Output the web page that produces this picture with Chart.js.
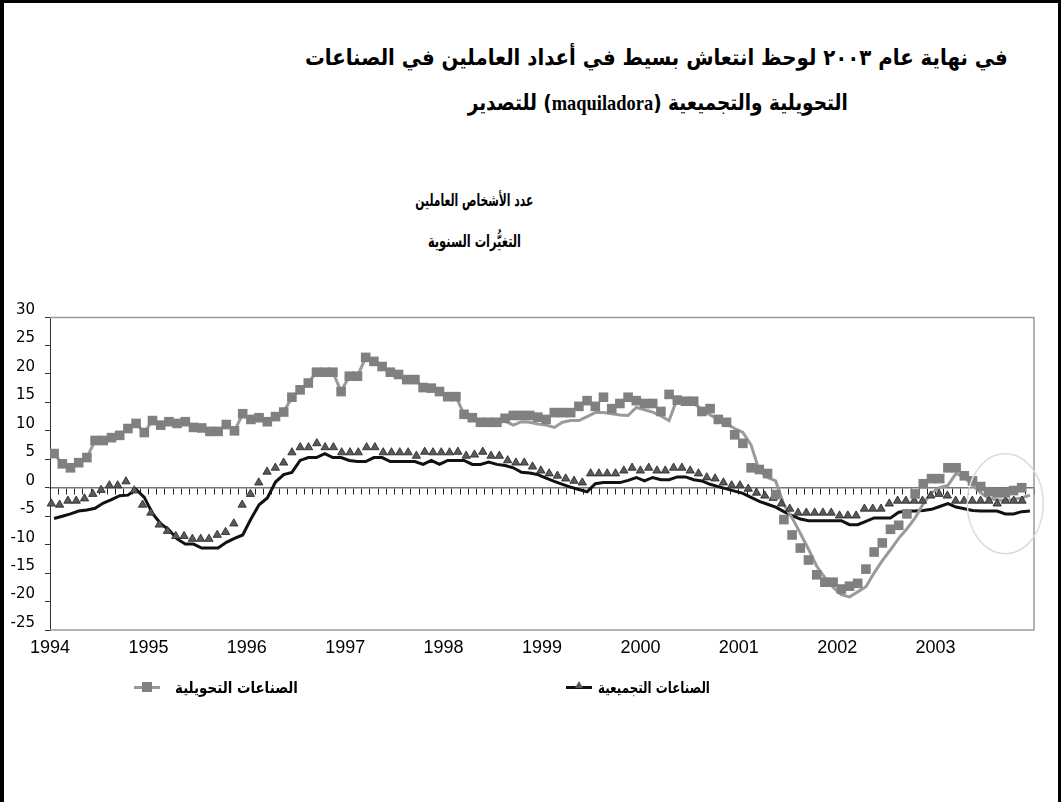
<!DOCTYPE html>
<html lang="ar">
<head>
<meta charset="utf-8">
<title>maquiladora</title>
<script src="https://cdn.jsdelivr.net/npm/chart.js@4.4.1/dist/chart.umd.min.js"></script>
<style>
  html, body { margin: 0; padding: 0; background: #fff; }
  body { width: 1061px; height: 802px; position: relative; overflow: hidden; font-family: "DejaVu Sans", sans-serif; color: #000; }
  .frame { position: absolute; left: 0; top: 0; width: 1054px; height: 900px; border: 3px solid #000; border-left-width: 4px; }
  .t { position: absolute; white-space: nowrap; text-align: center; font-weight: bold; }
  .t span { display: inline-block; transform-origin: 50% 50%; }
  .latin { font-family: "Liberation Serif", serif; }
  #c { position: absolute; left: 0; top: 290px; }
  .leg { position: absolute; top: 676px; height: 24px; }
  .sym { position: absolute; top: 10px; width: 26px; height: 3px; }
  .sym i { position: absolute; display: block; }
  .lt { position: absolute; top: 0; white-space: nowrap; font-weight: bold; font-size: 16px; line-height: 24px; }
  .lt span { display: inline-block; transform-origin: 0 50%; }
</style>
</head>
<body>
<div class="frame"></div>

<div class="t" style="left:256px; width:800px; top:42px; font-size:22px; line-height:32px" data-w="703" dir="rtl"><span>في نهاية عام ٢٠٠٣ لوحظ انتعاش بسيط في أعداد العاملين في الصناعات</span></div>
<div class="t" style="left:358px; width:600px; top:87px; font-size:22px; line-height:32px" data-w="380" dir="rtl"><span>التحويلية والتجميعية (<b class="latin">maquiladora</b>) للتصدير</span></div>
<div class="t" style="left:324px; width:300px; top:187px; font-size:17px; line-height:26px" data-w="118" dir="rtl"><span>عدد الأشخاص العاملين</span></div>
<div class="t" style="left:324px; width:300px; top:228px; font-size:17px; line-height:26px" data-w="93" dir="rtl"><span>التغيُّرات السنوية</span></div>

<canvas id="c" width="1061" height="390"></canvas>

<div class="leg" style="left:134px">
  <div class="sym" style="background:#999"><i style="left:8px; top:-4px; width:10px; height:10px; background:#808080"></i></div>
  <div class="lt" style="left:41px" data-w="123" dir="rtl"><span>الصناعات التحويلية</span></div>
</div>
<div class="leg" style="left:566px">
  <div class="sym" style="background:#111"><i style="left:9px; top:-5px; width:0; height:0; border-left:4px solid transparent; border-right:4px solid transparent; border-bottom:7px solid #555"></i></div>
  <div class="lt" style="left:32px" data-w="112" dir="rtl"><span>الصناعات التجميعية</span></div>
</div>

<script>
// Employment in maquiladora industries, annual % change, monthly 1994-2003.

const yearLabels = ["1994", "1995", "1996", "1997", "1998", "1999", "2000", "2001", "2002", "2003"];
const yTicks = [30, 25, 20, 15, 10, 5, 0, -5, -10, -15, -20, -25];

// manufacturing (squares), one value per month from Jan 1994
const manufacturing = [
  6.0, 4.2, 3.5, 4.4, 5.3, 8.3, 8.3, 8.8, 9.2, 10.4,
  11.3, 9.7, 11.8, 11.0, 11.6, 11.3, 11.6, 10.6, 10.5, 9.9,
  9.9, 11.1, 10.0, 13.0, 12.0, 12.3, 11.6, 12.5, 13.3, 15.9,
  17.2, 18.4, 20.3, 20.3, 20.3, 16.9, 19.6, 19.6, 22.9, 22.2,
  21.3, 20.3, 19.9, 19.0, 19.0, 17.6, 17.5, 16.9, 16.0, 16.0,
  12.9, 12.3, 11.5, 11.5, 11.5, 12.2, 12.7, 12.7, 12.7, 12.4,
  12.0, 13.2, 13.2, 13.2, 14.3, 15.3, 14.3, 15.9, 13.9, 14.8,
  15.9, 15.3, 14.8, 14.8, 13.4, 16.4, 15.4, 15.2, 15.2, 13.4,
  13.9, 12.0, 11.5, 9.3, 7.8, 3.5, 3.2, 2.5, -1.2, -5.6,
  -8.3, -10.6, -12.7, -15.3, -16.6, -16.6, -17.8, -17.3, -16.8, -14.3,
  -11.3, -9.7, -7.3, -6.6, -4.6, -1.1, 0.7, 1.6, 1.6, 3.5,
  3.5, 2.1, 1.2, 0.2, -0.7, -0.9, -0.9, -0.5, 0.0, null
];

// manufacturing, smoothed line
const manufacturingTrend = [
  6.0, 4.2, 3.5, 4.4, 5.3, 8.3, 8.3, 8.8, 9.2, 10.4,
  11.3, 9.7, 11.8, 11.0, 11.6, 11.3, 11.6, 10.6, 10.5, 9.9,
  9.9, 11.1, 10.0, 13.0, 12.0, 12.3, 11.6, 12.5, 13.3, 15.9,
  17.2, 18.4, 20.3, 20.3, 20.3, 16.9, 19.6, 19.6, 22.9, 22.2,
  21.3, 20.3, 19.9, 19.0, 19.0, 17.6, 17.5, 16.9, 16.0, 16.0,
  12.9, 12.3, 11.5, 11.5, 11.5, 11.7, 11.0, 11.6, 11.5, 11.2,
  11.0, 10.6, 11.5, 11.8, 11.8, 12.5, 13.2, 13.2, 13.0, 12.8,
  12.7, 14.1, 13.7, 13.3, 12.6, 11.8, 15.7, 15.2, 14.8, 13.8,
  12.8, 12.0, 11.2, 10.4, 9.7, 7.5, 3.0, 1.8, 1.2, -3.0,
  -5.3, -8.0, -10.8, -13.8, -15.8, -17.5, -18.8, -19.2, -18.3, -17.4,
  -15.0, -12.8, -10.9, -8.9, -7.2, -5.3, -2.8, -0.9, 0.0, 0.4,
  2.5, 1.8, 0.5, -0.9, -1.9, -2.1, -2.3, -2.0, -1.8, -1.3
];

// assembly (triangles)
const assembly = [
  -3.7, -2.8, -3.0, -2.3, -2.3, -1.9, -1.1, -0.4, 0.4, 0.4,
  1.1, -0.5, -3.0, -4.4, -6.5, -7.6, -8.5, -8.5, -9.0, -9.0,
  -9.0, -8.3, -7.8, -6.3, -3.0, -1.1, 0.9, 2.8, 3.5, 4.4,
  6.2, 7.1, 7.1, 7.8, 7.1, 7.1, 6.2, 6.2, 6.2, 7.1,
  7.1, 6.2, 6.2, 6.2, 6.2, 5.6, 6.3, 6.2, 6.2, 6.2,
  6.3, 5.6, 5.8, 6.3, 5.6, 5.6, 4.8, 4.4, 4.4, 3.7,
  3.0, 2.5, 2.1, 1.6, 1.2, 0.9, 2.5, 2.5, 2.5, 2.5,
  3.0, 3.5, 3.0, 3.5, 3.0, 3.0, 3.5, 3.5, 3.0, 2.5,
  1.8, 1.6, 0.9, 0.4, 0.4, -0.2, -0.9, -1.4, -1.8, -2.8,
  -3.7, -4.4, -4.4, -4.4, -4.4, -4.4, -4.9, -4.9, -4.9, -3.7,
  -3.7, -3.7, -2.8, -2.3, -2.3, -2.3, -2.3, -1.4, -1.1, -1.4,
  -2.3, -2.3, -2.3, -2.3, -2.3, -2.8, -2.3, -2.3, -2.3
];

// assembly, smoothed line
const assemblyTrend = [
  -5.4, -5.0, -4.6, -4.1, -3.9, -3.6, -2.7, -2.1, -1.4, -1.3,
  -0.3, -1.7, -4.5, -6.3, -7.4, -9.0, -9.9, -9.9, -10.6, -10.6,
  -10.6, -9.6, -8.9, -8.3, -5.5, -3.0, -1.8, 1.0, 2.3, 2.7,
  4.8, 5.3, 5.3, 6.0, 5.3, 5.3, 4.8, 4.6, 4.6, 5.3,
  5.3, 4.6, 4.6, 4.6, 4.6, 4.1, 4.8, 4.1, 4.8, 4.8,
  4.8, 4.1, 4.1, 4.5, 4.1, 3.9, 3.5, 2.7, 2.6, 2.3,
  1.7, 1.1, 0.6, 0.1, -0.3, -0.7, 0.7, 0.9, 0.9, 0.9,
  1.3, 1.8, 1.2, 1.8, 1.4, 1.4, 1.9, 1.9, 1.4, 1.2,
  0.6, 0.2, -0.2, -0.6, -1.0, -1.7, -2.4, -2.9, -3.4, -4.2,
  -4.9, -5.5, -5.8, -5.8, -5.8, -5.8, -5.8, -6.5, -6.5, -5.9,
  -5.3, -5.3, -5.3, -4.3, -4.1, -4.1, -4.0, -3.8, -3.3, -2.8,
  -3.4, -3.7, -4.0, -4.1, -4.1, -4.1, -4.6, -4.6, -4.2, -4.1
];

// the light ring drawn round the end of 2003 in the source
const ring = { month: 116, value: -2.8, rx: 38, ry: 50 };

function toPoints(values) {
  return values.map(function (v, i) { return { x: i, y: v }; });
}

// the source uses a narrow Arabic face: keep the height, squeeze to its width
function fitText(el) {
  const target = Number(el.dataset.w);
  const span = el.querySelector("span");
  const w = span.getBoundingClientRect().width;
  if (w > 0) span.style.transform = "scaleX(" + (target / w).toFixed(3) + ")";
}
document.querySelectorAll("[data-w]").forEach(fitText);

// gray frame on top, right and bottom of the plot area
const plotFrame = {
  id: "plotFrame",
  beforeDatasetsDraw: function (chart) {
    const a = chart.chartArea;
    const ctx = chart.ctx;
    ctx.save();
    ctx.strokeStyle = "#9a9a9a";
    ctx.lineWidth = 1.5;
    ctx.beginPath();
    ctx.moveTo(a.left, a.top + 0.5);
    ctx.lineTo(a.right, a.top + 0.5);
    ctx.lineTo(a.right, a.bottom);
    ctx.lineTo(a.left, a.bottom);
    ctx.stroke();
    ctx.restore();
  },
  afterDatasetsDraw: function (chart) {
    const ctx = chart.ctx;
    const cx = chart.scales.x.getPixelForValue(ring.month);
    const cy = chart.scales.y.getPixelForValue(ring.value);
    ctx.save();
    ctx.strokeStyle = "#dcdcdc";
    ctx.lineWidth = 1.5;
    ctx.beginPath();
    ctx.ellipse(cx, cy, ring.rx, ring.ry, 0, 0, Math.PI * 2);
    ctx.stroke();
    ctx.restore();
  }
};

new Chart(document.getElementById("c"), {
  type: "line",
  data: {
    datasets: [
      {
        label: "الصناعات التحويلية",
        data: toPoints(manufacturing),
        xAxisID: "x", yAxisID: "y",
        showLine: false,
        pointStyle: "rect", pointRadius: 6.8, pointBorderWidth: 0,
        pointBackgroundColor: "#808080", pointBorderColor: "#808080"
      },
      {
        label: "الصناعات التجميعية",
        data: toPoints(assembly),
        xAxisID: "xTri", yAxisID: "y",
        showLine: false, clip: false,
        pointStyle: "triangle", pointRadius: 4.8, pointBorderWidth: 0.8,
        pointBackgroundColor: "#5a5a5a", pointBorderColor: "#222"
      },
      {
        label: "trend 1",
        data: toPoints(manufacturingTrend),
        xAxisID: "x", yAxisID: "y",
        borderColor: "#9a9a9a", borderWidth: 3, pointRadius: 0, tension: 0
      },
      {
        label: "trend 2",
        data: toPoints(assemblyTrend),
        xAxisID: "x", yAxisID: "y",
        borderColor: "#111", borderWidth: 3, pointRadius: 0, tension: 0
      }
    ]
  },
  options: {
    responsive: false,
    animation: false,
    devicePixelRatio: 1,
    layout: { padding: { top: 27, right: 27, bottom: 0, left: 0 } },
    plugins: { legend: { display: false }, tooltip: { enabled: false } },
    scales: {
      x: {
        type: "linear", position: "bottom", min: -0.5, max: 119.5,
        afterBuildTicks: function (s) { s.ticks = yearLabels.map(function (_, k) { return { value: k * 12 - 0.5 }; }); },
        afterFit: function (s) { s.height = 50; },
        grid: { display: false, drawTicks: false },
        border: { display: false },
        ticks: {
          autoSkip: false, maxRotation: 0, padding: 7, color: "#000",
          font: { family: "'Liberation Sans', Arial, sans-serif", size: 18 },
          callback: function (v, i) { return yearLabels[i]; }
        }
      },
      months: {
        type: "linear", axis: "x", position: { y: 0 }, min: -0.5, max: 119.5,
        afterBuildTicks: function (s) {
          s.ticks = Array.from({ length: 121 }, function (_, k) { return { value: k - 0.5 }; });
        },
        ticks: { display: false },
        grid: { drawOnChartArea: false, tickLength: 6, color: "#222", lineWidth: 1 },
        border: { color: "#777", width: 1.5 }
      },
      xTri: { type: "linear", display: false, min: 0.84, max: 119.44 },
      y: {
        type: "linear", position: "left", min: -25, max: 30,
        afterBuildTicks: function (s) { s.ticks = yTicks.map(function (v) { return { value: v }; }); },
        afterFit: function (s) { s.width = 50; },
        grid: { drawOnChartArea: false, tickLength: 5, color: "#333" },
        border: { color: "#333", width: 1 },
        ticks: {
          color: "#000", padding: 10, labelOffset: -7,
          font: { family: "'DejaVu Sans', sans-serif", size: 15 }
        }
      }
    }
  },
  plugins: [plotFrame]
});
</script>
</body>
</html>
